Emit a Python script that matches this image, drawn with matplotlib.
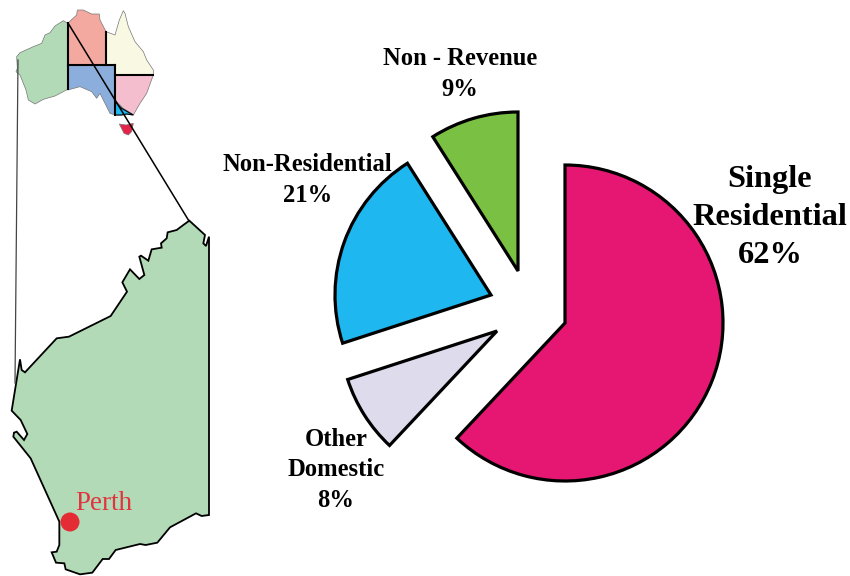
"""
Water use by sector in Perth, with locator maps of Australia and Western Australia
"""

import numpy as np
from matplotlib import pyplot as plt
from matplotlib.patches import Wedge, Polygon, Circle


# pie data, clockwise from 12 o'clock
shares = [62, 8, 21, 9]
colours = ['#E61673', '#DEDCEC', '#1EB7EF', '#7AC143']
# apex of each exploded slice + radius, pixels
apexes = [(565, 323), (497, 331), (491, 295), (518, 271)]
radii = [158, 157, 156, 159]

# outlines, traced from a 3x zoom (big map) / 3x zoom (small map)
big_wa = [(568,32),(615,75),(610,100),(618,108),(627,80),(627,915),(605,918),(588,910),
          (510,952),(472,998),(437,1005),(420,1002),(347,1020),(327,1047),(308,1047),
          (277,1088),(240,1093),(197,1078),(193,1060),(168,1058),(155,1027),(170,1025),
          (178,1005),(178,935),(92,745),(40,680),(42,668),(50,665),(72,690),(82,672),
          (62,630),(35,602),(60,448),(65,480),(75,487),(170,385),(207,380),(332,318),
          (381,245),(367,217),(390,178),(418,207),(433,195),(418,140),(423,137),(445,152),
          (455,118),(485,113),(483,100),(500,85),(503,67),(530,60),(550,45)]
small_wa = [(203,70),(190,62),(165,78),(150,98),(135,105),(125,130),(100,140),(60,158),
            (50,170),(52,205),(48,215),(60,225),(78,270),(85,300),(105,312),(130,298),
            (165,288),(203,268)]
small_nt = [(203,70),(230,45),(232,30),(250,30),(275,42),(298,42),(300,60),(318,95),
            (318,195),(203,195)]
small_qld = [(318,95),(345,105),(358,60),(370,32),(375,40),(385,80),(405,125),(430,155),
             (440,180),(460,210),(460,225),(345,225),(345,195),(318,195)]
small_sa = [(203,195),(345,195),(345,345),(330,340),(310,300),(300,280),(290,295),
            (275,275),(240,260),(203,270)]
small_nsw = [(345,225),(460,225),(440,280),(420,310),(400,345),(370,325),(345,300)]
small_vic = [(345,305),(365,325),(400,345),(380,342),(365,345),(345,345)]
small_tas = [(358,372),(378,375),(400,370),(395,395),(385,405),(372,400)]

small_states = [(small_wa, '#B2DAB6'), (small_nt, '#F3A9A0'), (small_qld, '#F9F8E3'),
                (small_sa, '#8CAEDC'), (small_nsw, '#F5BECF'), (small_vic, '#1DB8EF'),
                (small_tas, '#E6244A')]


def small_xy(pts):
    return np.array(pts) / 3.0


def big_xy(pts):
    return np.array(pts) / 3.0 + np.array([0, 210])


plt.rcParams['font.family'] = ['Liberation Serif', 'DejaVu Serif']

fig = plt.figure(figsize=(8.5, 5.76), dpi=100)
ax = fig.add_axes([0, 0, 1, 1])
ax.set_xlim(0, 850)
ax.set_ylim(576, 0)
ax.axis('off')

# small map: thin grey coast, heavy state borders
for pts, col in small_states:
    ax.add_patch(Polygon(small_xy(pts), closed=True, facecolor=col, edgecolor='#777777', lw=0.5))
for a, b in [((203,70),(203,268)), ((203,195),(345,195)), ((318,95),(318,195)),
             ((345,195),(345,345)), ((345,225),(460,225))]:
    ax.plot(*small_xy([a, b]).T, color='black', lw=1.5)
ax.add_patch(Polygon(small_xy(small_vic), closed=True, facecolor='#1DB8EF', edgecolor='black', lw=0.8))

# big map
ax.add_patch(Polygon(big_xy(big_wa), closed=True, facecolor='#B2DAB6', edgecolor='black', lw=1.3))
ax.add_patch(Circle((70, 522), 9.5, facecolor='#E42C35', edgecolor='none'))
ax.text(75, 503, 'Perth', color='#E0353F', fontsize=19.5, va='center', ha='left')

# leader lines
ax.plot([68, 189], [23, 221], color='black', lw=1.1)
ax.plot([18, 15], [60, 383], color='#444444', lw=0.9)

# pie, y axis is flipped so angles run clockwise from +x
angle = -90.0
for share, col, apex, r in zip(shares, colours, apexes, radii):
    sweep = share * 3.6
    ax.add_patch(Wedge(apex, r, angle, angle + sweep, facecolor=col, edgecolor='black', lw=2.3))
    angle += sweep

ax.text(770, 217.5, 'Single\nResidential\n62%', fontsize=23.3, fontweight='bold', ha='center',
        va='center', linespacing=1.42)
ax.text(307.5, 180, 'Non-Residential\n21%', fontsize=17.7, fontweight='bold', ha='center',
        va='center', linespacing=1.4)
ax.text(460, 74, 'Non - Revenue\n9%', fontsize=17.7, fontweight='bold', ha='center',
        va='center', linespacing=1.4)
ax.text(336, 470, 'Other\nDomestic\n8%', fontsize=17.7, fontweight='bold', ha='center',
        va='center', linespacing=1.4)

fig.savefig('out.png', dpi=100)
